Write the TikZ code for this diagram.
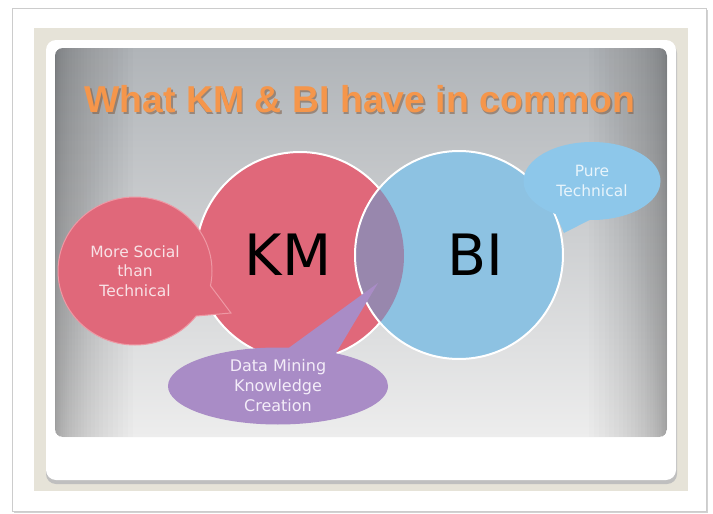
\documentclass[tikz,border=0pt]{standalone}
\usepackage{fontspec}
\setmainfont{DejaVu Sans}
\newfontfamily\titlefont{Liberation Sans}
\usetikzlibrary{shapes.callouts,shapes.geometric}

\definecolor{beige}{HTML}{E6E3D8}
\definecolor{pnltop}{HTML}{B0B4B8}
\definecolor{pnlmid}{HTML}{D8D9DA}
\definecolor{pnlbot}{HTML}{EDEDED}
\definecolor{kmred}{HTML}{E0687A}
\definecolor{kmpale}{HTML}{EE98A4}
\definecolor{biblue}{HTML}{8DC2E2}
\definecolor{overlap}{HTML}{9887AD}
\definecolor{lilac}{HTML}{A98CC6}
\definecolor{skyblue}{HTML}{8DC7EA}
\definecolor{pinktext}{HTML}{F8E2E6}
\definecolor{skytext}{HTML}{E8F4FB}
\definecolor{lilactext}{HTML}{F3ECF8}
\definecolor{titleorange}{HTML}{F5964B}
\definecolor{titleshadow}{HTML}{7E5A40}

\tikzset{
  titletext/.style={font=\titlefont\bfseries\fontsize{37.4}{40}\selectfont, anchor=base, inner sep=0pt},
  bigword/.style={font=\fontsize{57}{60}\selectfont, text=black},
  bubble/.style={ellipse callout, inner sep=0pt, align=center},
  ring/.style={white, line width=2pt},
  edgeshade/.style={black, opacity=0.011},
}

\begin{document}
\begin{tikzpicture}[x=1pt,y=-1pt]
\useasboundingbox (0,0) rectangle (713,514);
\fill[white] (0,0) rectangle (713,514);

% outer frame with its shadow
\fill[gray!35] (14,10) rectangle (708,513);
\filldraw[fill=white, draw=gray!40, line width=0.8pt] (12,8) rectangle (706,511);

% beige mat and white card
\fill[beige] (34,28) rectangle (688,491);
\fill[gray!50, rounded corners=10pt] (46,43) rectangle (677,484);
\fill[white, rounded corners=10pt] (46,40) rectangle (676,480);

% slide panel: vertical gradient, then darker left and right sides built from thin layers
\path[rounded corners=8pt, top color=pnltop, middle color=pnlmid, bottom color=pnlbot] (55,48) rectangle (667,437);
\begin{scope}
  \clip[rounded corners=8pt] (55,48) rectangle (667,437);
  \foreach \k in {1,...,28} {
    \fill[edgeshade] (55,48) rectangle ({55+0.1*\k*\k},437);
    \fill[edgeshade] ({667-0.1*\k*\k},48) rectangle (667,437);
  }
\end{scope}

% title
\node[titletext, text=titleshadow, opacity=0.55] (titleshade) at (361.5,114) {What KM \& BI have in common};
\node[titletext, text=titleorange] (title) at (360,112) {What KM \& BI have in common};

% the two sets and their overlap
\coordinate (kmc) at (300,256);
\coordinate (bic) at (459,255);
\fill[kmred] (kmc) circle[radius=104pt];
\draw[ring] (kmc) circle[radius=104pt];
\fill[biblue] (bic) circle[radius=104pt];
\begin{scope}
  \clip (kmc) circle[radius=104pt];
  \fill[overlap] (bic) circle[radius=104pt];
\end{scope}
\draw[ring] (bic) circle[radius=104pt];

\node[bigword] (km) at (288,255) {KM};
\node[bigword] (bi) at (475,255) {BI};

% speech bubbles
\node[bubble, fill=kmred, draw=kmpale, line width=1pt, minimum width=154pt, minimum height=148pt,
      callout absolute pointer={(231,313)}, callout pointer arc=26, text=pinktext,
      font=\fontsize{15.5}{19.5}\selectfont] (social) at (135,271) {More Social\\than\\Technical};

\node[bubble, fill=skyblue, minimum width=137pt, minimum height=78pt,
      callout absolute pointer={(564,233)}, callout pointer arc=30, text=skytext,
      font=\fontsize{15.5}{19.5}\selectfont] (pure) at (592,181) {Pure\\Technical};

\node[bubble, fill=lilac, minimum width=220pt, minimum height=77pt,
      callout absolute pointer={(378,283)}, callout pointer arc=26, text=lilactext,
      font=\fontsize{16}{20}\selectfont] (mining) at (278,386) {Data Mining\\Knowledge\\Creation};
\end{tikzpicture}
\end{document}
